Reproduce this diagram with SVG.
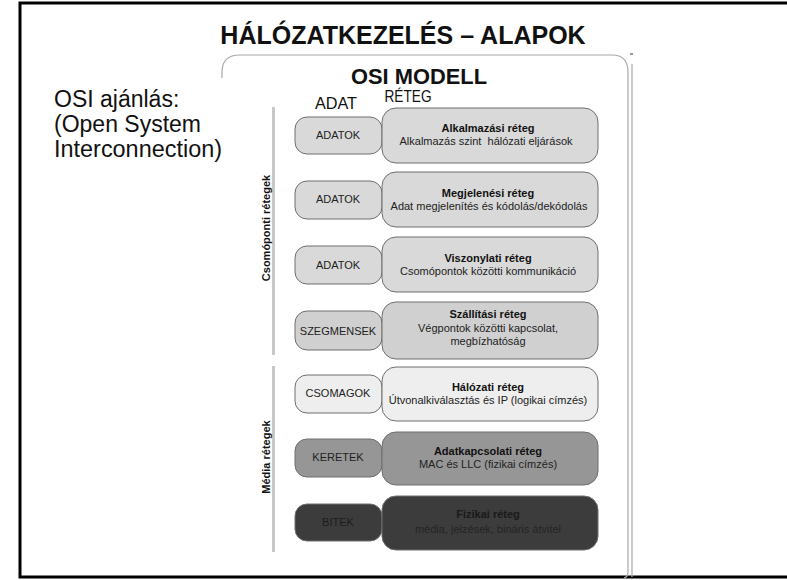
<svg xmlns="http://www.w3.org/2000/svg" width="787" height="580" viewBox="0 0 787 580">
<style>
text{font-family:"Liberation Sans",Arial,sans-serif;fill:#111}
.b{font-weight:bold}
.lbl{font-size:11px;text-anchor:middle;fill:#222}
.tt{font-size:11px;font-weight:bold;text-anchor:middle;fill:#111}
.sm{stroke:#6e6e6e;stroke-width:1}
.panel{fill:none;stroke:#a8a8a8;stroke-width:1.2}
.bar{fill:#c8c8c8}
</style>
<rect x="0" y="0" width="787" height="580" fill="#fff"/>
<path d="M800,3 H20 V577 H800" fill="none" stroke="#000" stroke-width="3"/>
<text x="403" y="44" class="b" font-size="25" text-anchor="middle">HÁLÓZATKEZELÉS – ALAPOK</text>
<line x1="630" y1="54" x2="633" y2="54" stroke="#333" stroke-width="1"/>
<g id="panel">
<path class="panel" d="M222,78 V72 Q222,55 240,55 H612 Q628,55 628,72 V572 Q628,577 624,578"/>
<path class="panel" d="M632,64 V577"/>
</g>
<text x="419" y="84" class="b" font-size="22" text-anchor="middle" textLength="136" lengthAdjust="spacingAndGlyphs">OSI MODELL</text>
<text x="336" y="109" font-size="16" text-anchor="middle" textLength="42" lengthAdjust="spacingAndGlyphs">ADAT</text>
<text x="408" y="102" font-size="16" text-anchor="middle" textLength="47" lengthAdjust="spacingAndGlyphs">RÉTEG</text>
<g id="intro" font-size="23">
<text x="54" y="107">OSI ajánlás:</text>
<text x="54" y="132">(Open System</text>
<text x="54" y="157" textLength="168" lengthAdjust="spacingAndGlyphs">Interconnection)</text>
</g>
<g id="groups">
<rect class="bar" x="272" y="107" width="3" height="248"/>
<rect class="bar" x="272" y="366" width="3" height="186"/>
<text class="b" font-size="11" text-anchor="middle" transform="translate(270,228) rotate(-90)">Csomóponti rétegek</text>
<text class="b" font-size="11" text-anchor="middle" transform="translate(270,457) rotate(-90)">Média rétegek</text>
</g>
<g id="connectors"></g>
<g id="row1">
<rect class="sm" x="295" y="117" width="87" height="37" rx="12" fill="#d9d9d9"/>
<text class="lbl" x="338" y="139">ADATOK</text>
<rect class="sm" x="382" y="108" width="216" height="55" rx="14" fill="#d9d9d9"/>
<text class="tt" x="488" y="132">Alkalmazási réteg</text>
<text class="lbl" x="486" y="145" xml:space="preserve">Alkalmazás szint  hálózati eljárások</text>
</g>
<g id="row2">
<rect class="sm" x="295" y="181" width="87" height="38" rx="12" fill="#d9d9d9"/>
<text class="lbl" x="338" y="203">ADATOK</text>
<rect class="sm" x="382" y="172" width="216" height="55" rx="14" fill="#d9d9d9"/>
<text class="tt" x="488" y="197">Megjelenési réteg</text>
<text class="lbl" x="489" y="210">Adat megjelenítés és kódolás/dekódolás</text>
</g>
<g id="row3">
<rect class="sm" x="295" y="246" width="87" height="38" rx="12" fill="#d9d9d9"/>
<text class="lbl" x="338" y="269">ADATOK</text>
<rect class="sm" x="382" y="237" width="216" height="55" rx="14" fill="#d9d9d9"/>
<text class="tt" x="488" y="262">Viszonylati réteg</text>
<text class="lbl" x="488" y="275">Csomópontok közötti kommunikáció</text>
</g>
<g id="row4">
<rect class="sm" x="295" y="311" width="87" height="39" rx="12" fill="#d0d0d0"/>
<text class="lbl" x="338" y="335">SZEGMENSEK</text>
<rect class="sm" x="382" y="302" width="216" height="57" rx="14" fill="#d0d0d0"/>
<text class="tt" x="488" y="318">Szállítási réteg</text>
<text class="lbl" x="488" y="332">Végpontok közötti kapcsolat,</text>
<text class="lbl" x="488" y="345">megbízhatóság</text>
</g>
<g id="row5">
<rect class="sm" x="295" y="375" width="87" height="38" rx="12" fill="#eeeeee"/>
<text class="lbl" x="338" y="397">CSOMAGOK</text>
<rect class="sm" x="382" y="367" width="216" height="54" rx="14" fill="#eeeeee"/>
<text class="tt" x="488" y="391">Hálózati réteg</text>
<text class="lbl" x="488" y="404">Útvonalkiválasztás és IP (logikai címzés)</text>
</g>
<g id="row6">
<rect class="sm" x="295" y="439" width="87" height="38" rx="12" fill="#969696"/>
<text class="lbl" x="338" y="461">KERETEK</text>
<rect class="sm" x="382" y="432" width="216" height="53" rx="14" fill="#969696"/>
<text class="tt" x="488" y="455">Adatkapcsolati réteg</text>
<text class="lbl" x="488" y="468">MAC és LLC (fizikai címzés)</text>
</g>
<g id="row7">
<rect class="sm" x="295" y="504" width="87" height="37" rx="12" fill="#3c3c3c" stroke="#2a2a2a"/>
<text class="lbl" x="338" y="526" style="fill:#1c1c1c">BITEK</text>
<rect class="sm" x="382" y="496" width="216" height="54" rx="14" fill="#3c3c3c" stroke="#2a2a2a"/>
<text class="tt" x="488" y="518" style="fill:#1a1a1a">Fizikai réteg</text>
<text class="lbl" x="488" y="533" style="fill:#242424">média, jelzések, bináris átvitel</text>
</g>
</svg>
